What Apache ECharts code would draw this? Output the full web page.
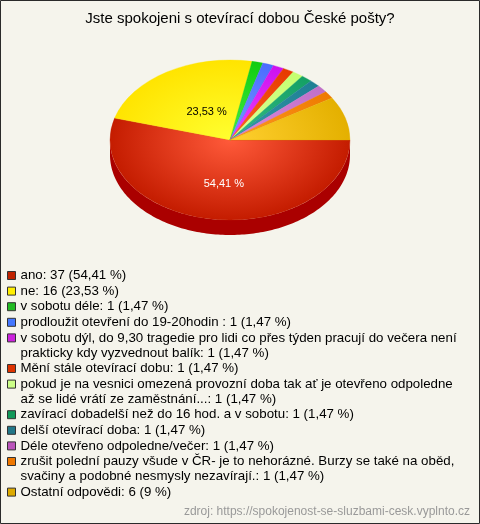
<!DOCTYPE html>
<html><head><meta charset="utf-8">
<script src="https://cdn.jsdelivr.net/npm/echarts@6/dist/echarts.min.js"></script>
<style>html,body{margin:0;padding:0;background:#f5f4ec}#c{width:480px;height:524px}</style>
</head><body><div id="c"></div>
<script>
// ---- data ----
const categories = [
  'ano',
  'ne',
  'v sobotu déle',
  'prodloužit otevření do 19-20hodin ',
  'v sobotu dýl, do 9,30 tragedie pro lidi co přes týden pracují do večera není prakticky kdy vyzvednout balík',
  'Mění stále otevírací dobu',
  'pokud je na vesnici omezená provozní doba tak ať je otevřeno odpoledne až se lidé vrátí ze zaměstnání...',
  'zavírací dobadelší než do 16 hod. a v sobotu',
  'delší otevírací doba',
  'Déle otevřeno odpoledne/večer',
  'zrušit polední pauzy všude v ČR- je to nehorázné. Burzy se také na oběd, svačiny a podobné nesmysly nezavírají.',
  'Ostatní odpovědi'
];
const values = [37, 16, 1, 1, 1, 1, 1, 1, 1, 1, 1, 6];
const percentLabels = ['54,41 %','23,53 %','1,47 %','1,47 %','1,47 %','1,47 %','1,47 %','1,47 %','1,47 %','1,47 %','1,47 %','9 %'];
const titleText = 'Jste spokojeni s otevírací dobou České pošty?';
const sourceText = 'zdroj: https://spokojenost-se-sluzbami-cesk.vyplnto.cz';

// ---- styles ----
const legendColors = ['#bf2200','#ffee00','#22bb22','#4477ff','#cc22dd','#dd3300','#ccff88','#11995a','#227788','#bb55bb','#ee7700','#ddaa00'];
const edgeColors   = ['#c41c00','#ffe400','#11cc11','#4a6cff','#cc11ee','#e63a00','#c4ff70','#14a064','#1f7f94','#c070c8','#ee7a00','#e4b000'];
const centerColors = ['#ff5a3a','#ffff30','#44ee44','#7799ff','#ee44ff','#ff6622','#ddff99','#33bb88','#3399aa','#dd88dd','#ff9922','#ffd030'];
const sideColors   = ['#aa0000','#ccb000','#119911','#3344cc','#9911bb','#aa2200','#99cc55','#0d7a4a','#175f70','#995599','#bb5500','#aa8000'];
const labelColors  = ['#ffffff','#000000'];

const CX = 230, CY = 140, RX = 120, RY = 80, DEPTH = 15;
const FONT = '"Liberation Sans", Arial, sans-serif';
const LEGEND_FS = 13.3;
const LH = 15, GAP = 0.6, TEXT_W = 444, FIRST_CENTER = 275.5;

const total = values.reduce((a, b) => a + b, 0);
const cum = [];
let acc = 0;
values.forEach(v => { cum.push([acc / total, (acc + v) / total]); acc += v; });

function legendText(i) {
  return categories[i] + ': ' + values[i] + ' (' + percentLabels[i] + ')';
}
// word wrap of the legend text
const mctx = document.createElement('canvas').getContext('2d');
mctx.font = LEGEND_FS + 'px ' + FONT;
function wrapLines(t) {
  const words = t.split(' ');
  const lines = [];
  let cur = '';
  for (const w of words) {
    const test = cur ? cur + ' ' + w : w;
    if (mctx.measureText(test).width > TEXT_W && cur) { lines.push(cur); cur = w; }
    else cur = test;
  }
  lines.push(cur);
  return lines;
}
const wrapped = categories.map((c, i) => wrapLines(legendText(i)));

function renderItem(params, api) {
  const s = api.value(0), e = api.value(1), idx = api.value(2);
  const a0 = s * Math.PI * 2, a1 = e * Math.PI * 2;
  const children = [];
  const lo = Math.max(a0, 0), hi = Math.min(a1, Math.PI);
  if (hi > lo) {
    const pts = [];
    const n = Math.max(2, Math.ceil((hi - lo) / 0.02));
    for (let k = 0; k <= n; k++) {
      const t = lo + (hi - lo) * k / n;
      pts.push([CX + RX * Math.cos(t), CY + RY * Math.sin(t)]);
    }
    for (let k = n; k >= 0; k--) {
      const t = lo + (hi - lo) * k / n;
      pts.push([CX + RX * Math.cos(t), CY + RY * Math.sin(t) + DEPTH]);
    }
    children.push({ type: 'polygon', shape: { points: pts }, style: { fill: sideColors[idx] } });
  }
  children.push({
    type: 'sector',
    shape: { cx: CX, cy: CY, r0: 0, r: RX, startAngle: a0, endAngle: a1, clockwise: true },
    scaleY: RY / RX, originX: CX, originY: CY,
    style: {
      fill: new echarts.graphic.RadialGradient(CX, CY, RX, [
        { offset: 0, color: centerColors[idx] },
        { offset: 1, color: edgeColors[idx] }
      ], true),
      stroke: edgeColors[idx], lineWidth: 0.4
    }
  });
  if (e - s > 0.1) {
    const m = (a0 + a1) / 2;
    children.push({
      type: 'text',
      x: CX + RX * 0.37 * Math.cos(m),
      y: CY + RY * 0.49 * Math.sin(m) + 5.3,
      style: { text: percentLabels[idx], fill: labelColors[idx] || '#000', font: '11px ' + FONT, align: 'center', verticalAlign: 'middle' }
    });
  }
  return { type: 'group', children };
}

const series = categories.map((name, i) => ({
  type: 'custom', name, coordinateSystem: 'none', silent: true,
  itemStyle: { color: legendColors[i] },
  data: [[cum[i][0], cum[i][1], i]],
  renderItem
}));

const legends = [];
let yc = FIRST_CENTER;
categories.forEach((name, i) => {
  const lines = wrapped[i];
  const multi = lines.length > 1;
  legends.push({
    data: [name], left: 7, top: yc - LH / 2 - (multi ? LH : 0),
    orient: 'vertical', padding: 0, icon: 'rect', itemWidth: 8, itemHeight: 8, itemGap: 0,
    selectedMode: false,
    itemStyle: { borderColor: '#333', borderWidth: 1 },
    formatter: () => (multi ? '\n' : '') + lines.join('\n'),
    textStyle: { fontSize: LEGEND_FS, fontFamily: FONT, color: '#000', lineHeight: LH }
  });
  yc += lines.length * LH + GAP;
});

const chart = echarts.init(document.getElementById('c'), null, { renderer: 'canvas' });
chart.setOption({
  backgroundColor: '#f5f4ec',
  animation: false,
  title: [
    { text: titleText, left: 'center', top: 11, padding: 0,
      textStyle: { fontSize: 15, fontWeight: 'normal', color: '#000', fontFamily: FONT } },
    { text: sourceText, right: 10, top: 506, padding: 0,
      textStyle: { fontSize: 12, fontWeight: 'normal', color: '#999', fontFamily: FONT } }
  ],
  legend: legends,
  graphic: [{ type: 'rect', shape: { x: 0.5, y: 0.5, width: 479, height: 523 }, style: { fill: 'none', stroke: '#2a2a2a', lineWidth: 1 }, silent: true }],
  series
});
</script></body></html>
